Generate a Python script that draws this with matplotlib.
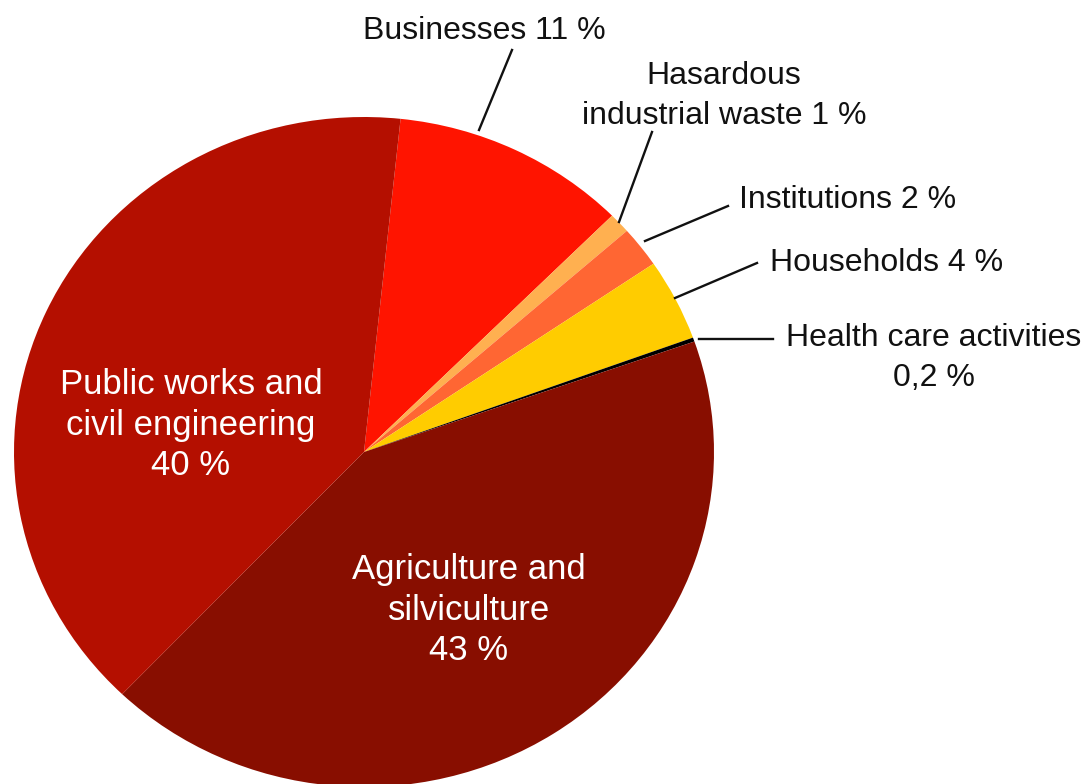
import matplotlib
matplotlib.use("Agg")
import matplotlib.pyplot as plt
from matplotlib.lines import Line2D

plt.rcParams['font.family'] = ['Liberation Sans', 'DejaVu Sans']

# Shares of waste by source (%)
sectors = [
    "Businesses",
    "Hasardous industrial waste",
    "Institutions",
    "Households",
    "Health care activities",
    "Agriculture and silviculture",
    "Public works and civil engineering",
]
shares = [11, 1, 2, 4, 0.2, 43, 40]
share_text = ["11 %", "1 %", "2 %", "4 %", "0,2 %", "43 %", "40 %"]
colors = ["#FF1400", "#FFB050", "#FF6633", "#FFCC00", "#000000", "#880E00", "#B40F00"]

W, H = 1087, 784
fig = plt.figure(figsize=(W / 100, H / 100), dpi=100)


def fx(px):
    return px / W


def fy(py):
    return 1 - py / H


# Pie axes: slightly wider than tall, bottom edge runs off the canvas
cx, cy, rx, ry = 364, 452, 350, 335
ax = fig.add_axes([fx(cx - rx), fy(cy + ry), 2 * rx / W, 2 * ry / H])
ax.pie(shares, colors=colors, startangle=84, counterclock=False,
       wedgeprops=dict(linewidth=0, edgecolor="none"))
ax.set_aspect("auto")
ax.set_xlim(-1, 1)
ax.set_ylim(-1, 1)
ax.axis("off")

label_kw = dict(fontsize=23, color="#111111", va="center")
line_kw = dict(color="#111111", lw=1.7)

# Outside labels with leader lines
fig.text(fx(484), fy(31), f"{sectors[0]} {share_text[0]}", ha="center", **label_kw)
fig.add_artist(Line2D([fx(479), fx(512)], [fy(130), fy(50)], **line_kw))

fig.text(fx(724), fy(96), f"Hasardous\nindustrial waste {share_text[1]}", ha="center",
         linespacing=1.4, **label_kw)
fig.add_artist(Line2D([fx(619), fx(652)], [fy(222), fy(132)], **line_kw))

fig.text(fx(739), fy(200), f"{sectors[2]} {share_text[2]}", ha="left", **label_kw)
fig.add_artist(Line2D([fx(645), fx(728)], [fy(241), fy(206)], **line_kw))

fig.text(fx(770), fy(263), f"{sectors[3]} {share_text[3]}", ha="left", **label_kw)
fig.add_artist(Line2D([fx(675), fx(757)], [fy(298), fy(263)], **line_kw))

fig.text(fx(934), fy(358), f"{sectors[4]}\n{share_text[4]}", ha="center",
         linespacing=1.45, **label_kw)
fig.add_artist(Line2D([fx(699), fx(773)], [fy(339), fy(339)], **line_kw))

# Inside labels
inner_kw = dict(fontsize=25, color="white", ha="center", va="center", linespacing=1.3)
fig.text(fx(191), fy(425), f"Public works and\ncivil engineering\n{share_text[6]}", **inner_kw)
fig.text(fx(469), fy(610), f"Agriculture and\nsilviculture\n{share_text[5]}", **inner_kw)

fig.savefig("out.png", dpi=100, facecolor="white")
